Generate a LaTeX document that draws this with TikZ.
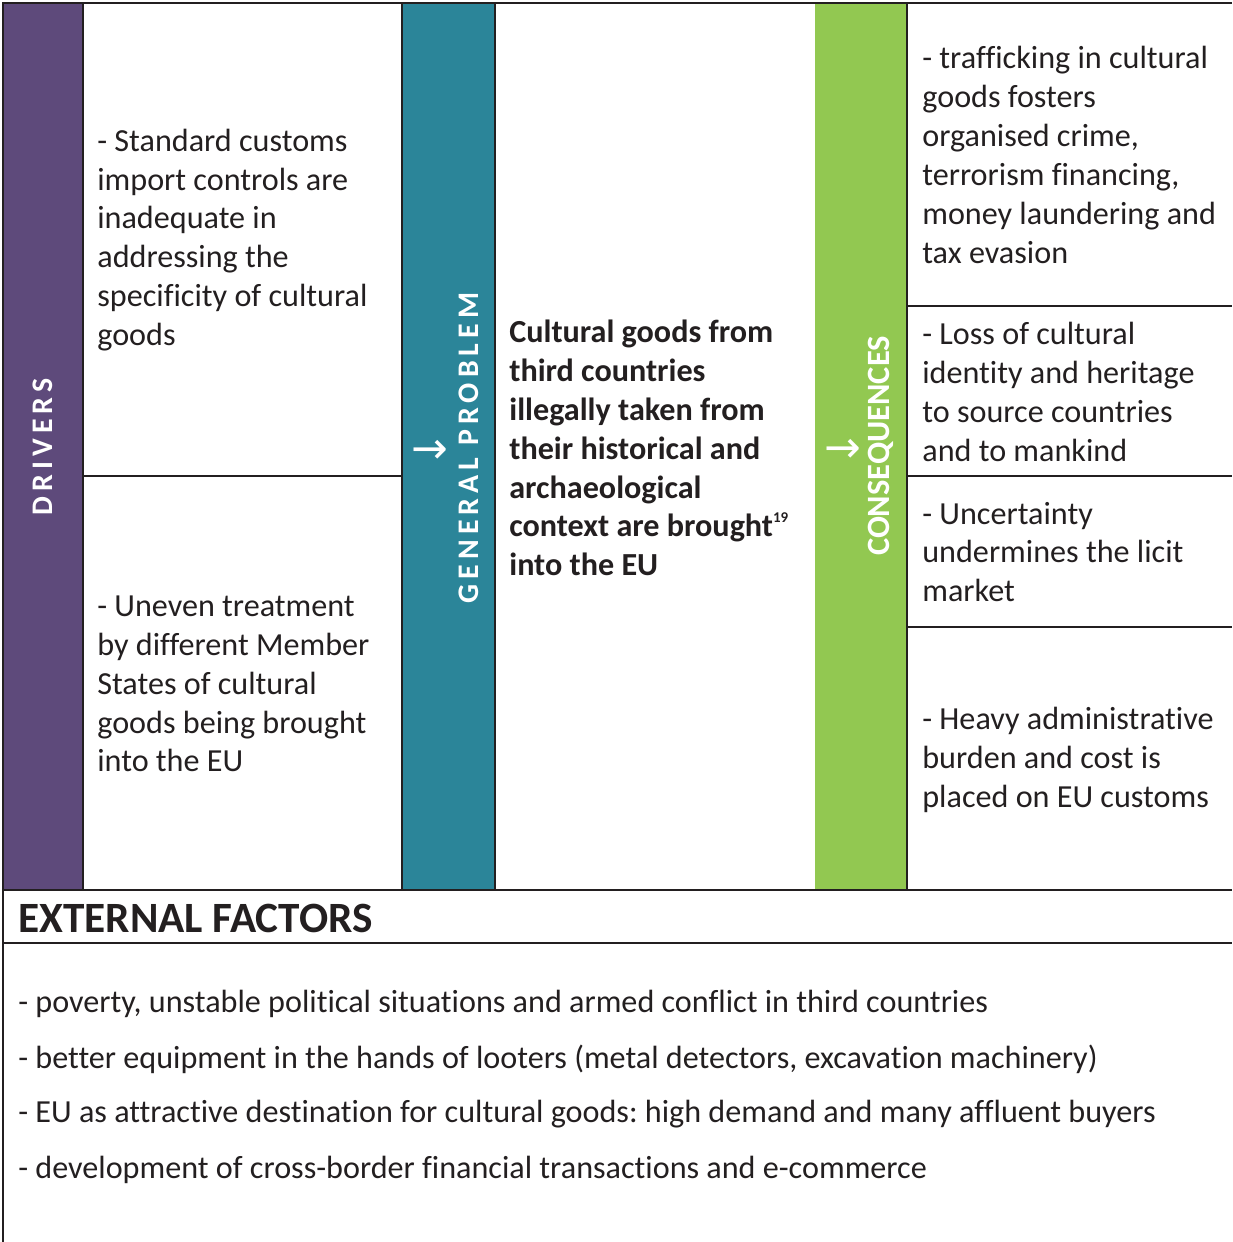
\documentclass[tikz,border=0pt]{standalone}
\usepackage{fontspec}
\setmainfont[Ligatures={NoCommon}]{Carlito}
\newfontfamily\setas{DejaVu Sans}
\usetikzlibrary{positioning}
\frenchspacing

\definecolor{roxo}{HTML}{5E4A7B}
\definecolor{azul}{HTML}{2B8599}
\definecolor{verde}{HTML}{92C851}
\definecolor{linha}{HTML}{231F20}

\tikzset{
  grelha/.style={draw=linha, line width=1.6pt},
  texto/.style={anchor=west, align=left, inner sep=0pt, text=linha,
    font=\fontsize{18.3}{22.1}\selectfont},
  titulo/.style={rotate=90, text=white, inner sep=0pt,
    font=\fontsize{17}{20}\selectfont\bfseries\addfontfeature{LetterSpace=17}},
  setinha/.style={text=white, inner sep=0pt, font=\setas\fontsize{25}{26}\selectfont}
}

\begin{document}
\begin{tikzpicture}[x=0.02cm, y=-0.02cm]
        \useasboundingbox (0,0) rectangle (1232,1242);

        % barras coloridas
        \fill[roxo] (3,3) rectangle (83,890);
        \fill[azul] (402,3) rectangle (495,890);
        \fill[verde] (815,3) rectangle (907,890);

        % desenhar grelha
        \draw[grelha] (1232,3) -- (3,3) -- (3,1242);
        \draw[grelha] (83,3) -- (83,890);
        \draw[grelha] (402,3) -- (402,890);
        \draw[grelha] (495,3) -- (495,890);
        \draw[grelha] (907,3) -- (907,890);
        \draw[grelha] (83,476) -- (402,476);
        \draw[grelha] (907,306) -- (1232,306);
        \draw[grelha] (907,476) -- (1232,476);
        \draw[grelha] (907,627) -- (1232,627);
        \draw[grelha] (3,890) -- (1232,890);
        \draw[grelha] (3,943) -- (1232,943);

        % titulos verticais
        \node[titulo] (drivers) at (43,447) {DRIVERS};
        \node[titulo] (problema) at (469,448) {GENERAL PROBLEM};
        \node[titulo, font=\fontsize{18.5}{22}\selectfont\bfseries] (consequencias) at (881,446) {CONSEQUENCES};
        \node[setinha] (seta1) at (430,452) {→};
        \node[setinha] (seta2) at (843,451) {→};

        % causas
        \node[texto] (causa1) at (97,240) {- Standard customs\\import controls are\\inadequate in\\addressing the\\specificity of cultural\\goods};
        \node[texto] (causa2) at (97,684) {- Uneven treatment\\by different Member\\States of cultural\\goods being brought\\into the EU};

        % problema
        \node[texto, font=\fontsize{18.3}{22.1}\selectfont\bfseries] (centro) at (509,448) {Cultural goods from\\third countries\\illegally taken from\\their historical and\\archaeological\\context are brought\raisebox{0.95ex}{\fontsize{8.5}{8.5}\selectfont\bfseries 19}\\into the EU};

        % efeitos
        \node[texto] (efeito1) at (922,155) {- trafficking in cultural\\goods fosters\\organised crime,\\terrorism financing,\\money laundering and\\tax evasion};
        \node[texto] (efeito2) at (922,392) {- Loss of cultural\\identity and heritage\\to source countries\\and to mankind};
        \node[texto] (efeito3) at (922,552) {- Uncertainty\\undermines the licit\\market};
        \node[texto] (efeito4) at (922,760) {- Heavy administrative\\burden and cost is\\placed on EU customs};

        % factores externos
        \node[texto, font=\fontsize{24.6}{28}\selectfont\bfseries] (externos) at (18,918) {EXTERNAL FACTORS};
        \node[texto] (fator1) at (18,1004) {- poverty, unstable political situations and armed conflict in third countries};
        \node[texto] (fator2) at (18,1059) {- better equipment in the hands of looters (metal detectors, excavation machinery)};
        \node[texto] (fator3) at (18,1114) {- EU as attractive destination for cultural goods: high demand and many affluent buyers};
        \node[texto] (fator4) at (18,1170) {- development of cross-border financial transactions and e-commerce};
    \end{tikzpicture}
\end{document}
